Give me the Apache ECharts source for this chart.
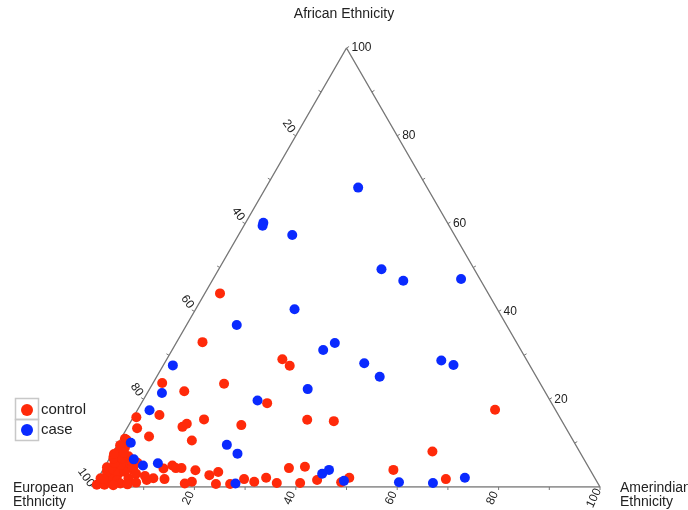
<!DOCTYPE html>
<html>
<head>
<meta charset="utf-8">
<script src="https://cdn.jsdelivr.net/npm/echarts@6/dist/echarts.min.js"></script>
<style>
  html, body { margin: 0; padding: 0; background: #fff; }
  #chart { width: 688px; height: 510px; }
</style>
</head>
<body>
<div id="chart"></div>
<script>
  // ternary composition in percent; European = 100 - African - Amerindian
  var controlAmerindian = [3.0, 5.1, 22.8, 25.0, 1.8, 7.1, 14.1, 24.8, 0.6, 4.9, 10.8, 11.3, 14.2, 2.0, 22.2, 5.3, 0.8, 1.3, 14.2,
    34.6, 40.0, 70.5, 62.9, 36.5, 39.5, 57.3, 11.8, 13.2, 14.2, 18.3, 21.6, 23.0, 23.9, 18.9, 17.7, 10.9, 13.2, 28.9, 31.2, 26.7,
    15.3, 9.8, 6.0, 0.6, 2.4, 4.0, 2.2, 33.1, 35.8, 40.4, 43.4, 48.4, 49.5, 68.7,
    0.5, 1.0, 2.0, 0.5, 1.5, 3.0, 2.5, 1.0, 0.5, 2.0, 3.5, 4.0, 5.0, 4.5, 3.0, 1.5, 0.8, 2.5, 1.0, 0.4, 6.0, 6.5, 5.5, 7.0,
    3.5, 1.8, 0.6, 8.0, 4.8, 2.2, 9.0, 1.2, 3.8, 6.0]
  var controlAfrican = [44.1, 33.0, 29.1, 27.6, 23.7, 21.8, 23.5, 19.1, 15.9, 16.4, 13.7, 14.4, 15.4, 13.4, 14.1, 11.5, 11.0, 10.7, 10.6,
    15.3, 15.0, 17.6, 8.1, 4.3, 4.6, 3.9, 4.2, 4.9, 4.3, 3.8, 2.7, 3.4, 0.7, 1.2, 0.8, 2.0, 1.8, 1.8, 1.2, 0.7,
    4.3, 1.6, 3.9, 6.9, 6.5, 5.4, 5.0, 2.1, 0.9, 0.9, 1.6, 1.1, 2.1, 1.8,
    0.5, 1.0, 0.5, 2.0, 2.0, 1.0, 2.5, 3.5, 4.5, 4.0, 3.0, 1.5, 0.8, 3.5, 5.0, 5.5, 6.5, 6.5, 8.0, 7.5, 2.0, 0.6, 4.5, 3.0,
    7.0, 9.0, 9.5, 1.0, 5.8, 7.8, 2.5, 1.8, 0.4, 5.5]

  var caseAmerindian = [18.2, 3.5, 3.7, 10.6, 32.1, 37.7, 48.9, 19.5, 9.9, 31.3, 29.8, 39.4, 54.3, 57.2, 44.0, 31.2, 22.6,
    1.9, 2.9, 2.4, 2.4, 21.6, 24.7, 4.9, 7.4, 10.1, 44.6, 27.7, 43.7, 48.8, 59.8, 66.6, 72.3]
  var caseAfrican = [68.2, 60.2, 59.5, 57.4, 49.6, 47.0, 47.4, 40.5, 36.9, 32.8, 31.2, 28.2, 28.8, 27.8, 25.1, 22.3, 19.7,
    27.7, 21.4, 17.5, 10.1, 9.6, 7.6, 6.3, 4.9, 5.4, 3.9, 0.8, 3.0, 1.4, 1.1, 0.9, 2.1]

  var tickValues = [10, 20, 30, 40, 50, 60, 70, 80, 90, 100]
  var tickLabels = [20, 40, 60, 80, 100]

  var SQ = Math.sqrt(3) / 2
  var FONT = '"Liberation Sans", Arial, sans-serif'

  function toXY (amer, afr) {
    var out = []
    for (var i = 0; i < amer.length; i++) {
      out.push([amer[i] + afr[i] / 2, afr[i] * SQ])
    }
    return out
  }

  // 0: African (right edge), 1: European (left edge), 2: Amerindian (bottom edge)
  var tickData = []
  for (var a = 0; a < 3; a++) {
    tickValues.forEach(function (v) { tickData.push([a, v]) })
  }

  var normals = [[SQ, -0.5], [-SQ, -0.5], [0, 1]]

  function renderTick (params, api) {
    var axis = api.value(0)
    var v = api.value(1)
    var p
    if (axis === 0) p = [100 - v / 2, v * SQ]
    else if (axis === 1) p = [50 - v / 2, SQ * (100 - v)]
    else p = [v, 0]
    var pt = api.coord(p)
    var n = normals[axis]
    var children = [{
      type: 'line',
      shape: { x1: pt[0], y1: pt[1], x2: pt[0] + n[0] * 3, y2: pt[1] + n[1] * 3 },
      style: { stroke: '#777', lineWidth: 1 }
    }]
    if (tickLabels.indexOf(v) >= 0) {
      var t = { type: 'text', style: { text: String(v), font: '12px ' + FONT, fill: '#222', verticalAlign: 'middle' } }
      if (axis === 0) {
        t.x = pt[0] + 5; t.y = pt[1]; t.style.align = 'left'
      } else if (axis === 1) {
        t.x = pt[0] - 7; t.y = pt[1] - 9.5; t.rotation = -55 * Math.PI / 180; t.style.align = 'center'
      } else {
        t.x = pt[0] - 6; t.y = pt[1] + 11; t.rotation = 65 * Math.PI / 180; t.style.align = 'center'
      }
      children.push(t)
    }
    return { type: 'group', children: children }
  }

  var chart = echarts.init(document.getElementById('chart'))
  chart.setOption({
    animation: false,
    grid: { left: 93, right: 88, top: 48, bottom: 23 },
    xAxis: { type: 'value', min: 0, max: 100, show: false },
    yAxis: { type: 'value', min: 0, max: 100 * SQ, show: false },
    legend: {
      orient: 'vertical',
      left: 16,
      top: 397,
      itemWidth: 18,
      itemHeight: 12,
      itemGap: 4,
      icon: 'circle',
      textStyle: { fontSize: 15, lineHeight: 16, color: '#222', fontFamily: FONT },
      data: ['control', 'case']
    },
    graphic: [
      { type: 'rect', left: 13, top: 396, shape: { width: 23, height: 21 }, style: { fill: 'none', stroke: '#c8c8c8', lineWidth: 1.5 } },
      { type: 'rect', left: 13, top: 417, shape: { width: 23, height: 21 }, style: { fill: 'none', stroke: '#c8c8c8', lineWidth: 1.5 } },
      { type: 'text', left: 'center', top: 7, style: { text: 'African Ethnicity', font: '14px ' + FONT, fill: '#222' } },
      { type: 'text', left: 13, top: 481, style: { text: 'European\nEthnicity', font: '14px ' + FONT, lineHeight: 14, fill: '#222' } },
      { type: 'text', left: 620, top: 481, style: { text: 'Amerindian\nEthnicity', font: '14px ' + FONT, lineHeight: 14, fill: '#222' } }
    ],
    series: [
      {
        type: 'line',
        silent: true,
        symbol: 'none',
        lineStyle: { color: '#777', width: 1.4 },
        data: [[0, 0], [100, 0], [50, 100 * SQ], [0, 0]],
        z: 1
      },
      {
        type: 'custom',
        silent: true,
        renderItem: renderTick,
        data: tickData,
        z: 1
      },
      {
        name: 'control',
        type: 'scatter',
        symbolSize: 10,
        clip: false,
        itemStyle: { color: '#ff2a0a', opacity: 1 },
        data: toXY(controlAmerindian, controlAfrican),
        z: 3
      },
      {
        name: 'case',
        type: 'scatter',
        symbolSize: 10,
        clip: false,
        itemStyle: { color: '#0a2aff', opacity: 1 },
        data: toXY(caseAmerindian, caseAfrican),
        z: 4
      }
    ]
  })
</script>
</body>
</html>
